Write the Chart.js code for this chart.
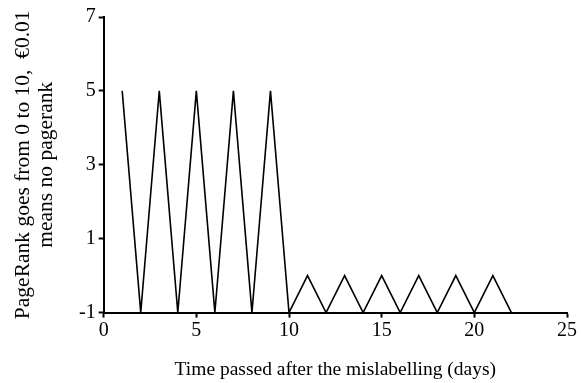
<!DOCTYPE html>
<html>
<head>
<meta charset="utf-8">
<script src="https://cdn.jsdelivr.net/npm/chart.js@4"></script>
<style>
  html, body { margin: 0; padding: 0; background: #fff; }
  #wrap { width: 581px; height: 383px; }
</style>
</head>
<body>
<div id="wrap"><canvas id="prChart" width="581" height="383"></canvas></div>
<script>
// days after the mislabelling
const days = [1, 2, 3, 4, 5, 6, 7, 8, 9, 10, 11, 12, 13, 14, 15, 16, 17, 18, 19, 20, 21, 22];
// pagerank (-1 = no pagerank)
const pageRank = [5, -1, 5, -1, 5, -1, 5, -1, 5, -1, 0, -1, 0, -1, 0, -1, 0, -1, 0, -1, 0, -1];
const xTicks = [0, 5, 10, 15, 20, 25];
const yTicks = [-1, 1, 3, 5, 7];

const serif = 'Liberation Serif, Times New Roman, serif';

document.addEventListener('DOMContentLoaded', function() {
  const ctx = document.getElementById('prChart').getContext('2d');
  new Chart(ctx, {
    type: 'line',
    data: {
      datasets: [{
        data: days.map((d, i) => ({ x: d, y: pageRank[i] })),
        borderColor: '#000',
        borderWidth: 1.6,
        borderJoinStyle: 'miter',
        pointRadius: 0,
        tension: 0,
        fill: false
      }]
    },
    options: {
      responsive: false,
      animation: false,
      layout: { padding: { left: 12, right: 14, top: 17, bottom: 1 } },
      plugins: { legend: { display: false }, tooltip: { enabled: false } },
      scales: {
        x: {
          type: 'linear',
          min: 0,
          max: 25,
          afterBuildTicks: axis => { axis.ticks = xTicks.map(v => ({ value: v })); },
          grid: { drawOnChartArea: false, drawTicks: true, tickLength: 5, tickColor: '#000', tickWidth: 2 },
          border: { display: true, color: '#000', width: 2 },
          ticks: { color: '#000', font: { family: serif, size: 20 }, padding: 1, maxRotation: 0 },
          title: {
            display: true,
            text: 'Time passed after the mislabelling (days)',
            color: '#000',
            font: { family: serif, size: 19.5 },
            padding: { top: 15, bottom: 0 }
          }
        },
        y: {
          min: -1,
          max: 7,
          afterBuildTicks: axis => { axis.ticks = yTicks.map(v => ({ value: v })); },
          grid: { drawOnChartArea: false, drawTicks: true, tickLength: 5, tickColor: '#000', tickWidth: 2 },
          border: { display: true, color: '#000', width: 2 },
          ticks: { color: '#000', font: { family: serif, size: 20 }, padding: 3 },
          title: {
            display: true,
            text: ['PageRank goes from 0 to 10,  €0.01', 'means no pagerank'],
            color: '#000',
            font: { family: serif, size: 21.5, lineHeight: 1.07 },
            padding: { top: 0, bottom: 18 }
          }
        }
      }
    }
  });
});
</script>
</body>
</html>
